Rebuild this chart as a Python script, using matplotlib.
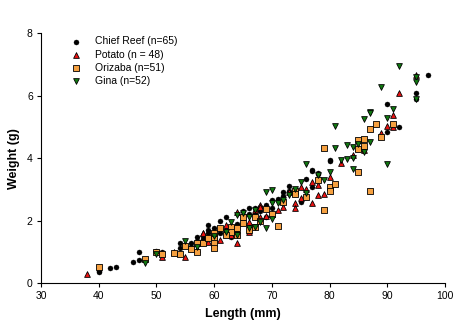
import matplotlib.pyplot as plt

plt.rcParams['font.family'] = ['Liberation Sans', 'DejaVu Sans']

# Chief Reef (black circles)
cr_len = [40, 40, 42, 43, 46, 47, 47, 50, 51, 54, 54, 56, 56, 57, 57, 58, 59, 59, 59,
          60, 61, 61, 62, 62, 62, 63, 63, 64, 65, 65, 65, 66, 66, 67, 67, 68, 68, 69,
          70, 70, 71, 72, 73, 73, 75, 76, 77, 77, 77, 78, 78, 80, 80, 90, 90, 92, 95,
          95, 97, 64, 66, 69, 72, 60, 58]
cr_wt = [0.40, 0.36, 0.47, 0.53, 0.66, 0.73, 0.98, 1.03, 0.98, 1.27, 1.13, 1.27, 1.16,
         1.48, 1.35, 1.40, 1.86, 1.70, 1.60, 1.55, 1.98, 1.60, 2.10, 1.54, 1.70, 1.46,
         1.65, 1.90, 2.30, 2.05, 2.15, 2.39, 2.20, 2.39, 2.20, 2.45, 2.30, 2.50, 2.65,
         2.40, 2.70, 2.80, 3.10, 2.95, 2.60, 3.32, 3.60, 3.06, 3.62, 3.53, 3.50, 3.91,
         3.94, 5.73, 4.83, 5.00, 6.10, 5.90, 6.66, 1.62, 1.80, 2.10, 2.90, 1.75, 1.50]

# Potato (red triangles)
po_len = [38, 51, 53, 55, 58, 58, 61, 62, 64, 64, 66, 67, 68, 68, 68, 74, 74, 75, 75,
          77, 77, 78, 78, 79, 82, 85, 86, 89, 90, 91, 91, 92, 95, 60, 63, 65, 70, 72,
          66, 73, 76, 84, 62, 59, 69, 71, 80, 57]
po_wt = [0.29, 0.82, 1.00, 0.82, 1.59, 1.61, 1.38, 1.70, 1.27, 2.28, 1.64, 2.34, 2.50,
         2.44, 2.10, 2.55, 2.39, 2.71, 3.08, 3.24, 2.55, 3.14, 2.82, 2.85, 3.85, 4.31,
         4.26, 4.79, 5.02, 5.00, 5.38, 6.07, 6.66, 1.50, 1.55, 2.00, 2.20, 2.45, 1.95,
         2.90, 3.00, 4.10, 1.85, 1.30, 2.15, 2.35, 3.40, 1.10]

# Orizaba (orange squares)
or_len = [40, 48, 50, 51, 54, 55, 57, 57, 58, 59, 60, 60, 60, 60, 61, 63, 63, 64, 65,
          65, 67, 67, 69, 71, 74, 74, 78, 79, 79, 80, 80, 81, 85, 85, 85, 86, 86, 87,
          87, 88, 89, 91, 62, 66, 68, 70, 72, 76, 56, 53, 64]
or_wt = [0.50, 0.76, 1.00, 0.93, 0.92, 1.18, 1.00, 1.29, 1.29, 1.43, 1.43, 1.29, 1.11,
         1.59, 1.75, 1.80, 1.64, 1.77, 1.93, 2.10, 2.12, 1.80, 2.36, 1.82, 2.95, 2.85,
         3.30, 4.31, 2.34, 3.06, 2.95, 3.17, 3.54, 4.58, 4.30, 4.62, 4.40, 4.93, 2.94,
         5.09, 4.68, 5.09, 1.55, 1.70, 2.00, 2.20, 2.60, 2.75, 1.10, 0.95, 1.55]

# Gina (green inverted triangles)
gi_len = [48, 50, 55, 57, 64, 64, 65, 66, 66, 67, 67, 68, 69, 69, 70, 70, 70, 71, 73,
          75, 76, 76, 78, 80, 81, 81, 82, 83, 83, 84, 84, 84, 86, 86, 87, 87, 87, 89,
          90, 90, 91, 92, 95, 95, 95, 62, 72, 74, 60, 63, 79, 85]
gi_wt = [0.63, 0.92, 1.35, 1.14, 2.18, 1.54, 2.23, 2.10, 1.75, 2.34, 1.80, 1.96, 1.75,
         2.92, 2.98, 2.55, 2.04, 2.55, 2.82, 3.24, 3.81, 2.89, 3.46, 3.56, 5.02, 4.31,
         3.94, 4.42, 3.96, 4.34, 3.99, 3.64, 5.24, 4.20, 5.48, 5.43, 4.52, 6.28, 5.27,
         3.81, 5.57, 6.95, 6.60, 5.88, 6.45, 1.65, 2.65, 3.00, 1.50, 1.95, 3.30, 4.45]

fig = plt.figure(figsize=(4.62, 3.25), dpi=100)
ax = fig.add_axes([0.089, 0.129, 0.874, 0.769])

ax.scatter(cr_len, cr_wt, s=13, marker='o', color='black', linewidths=0.3,
           edgecolors='black', label='Chief Reef (n=65)', zorder=3)
ax.scatter(po_len, po_wt, s=17, marker='^', color='#ee1111', linewidths=0.6,
           edgecolors='black', label='Potato (n = 48)', zorder=3)
ax.scatter(or_len, or_wt, s=14, marker='s', color='#f5a040', linewidths=0.6,
           edgecolors='black', label='Orizaba (n=51)', zorder=3)
ax.scatter(gi_len, gi_wt, s=17, marker='v', color='#107a10', linewidths=0.6,
           edgecolors='black', label='Gina (n=52)', zorder=3)

ax.set_xlim(30, 100)
ax.set_ylim(0, 8)
ax.set_xticks(range(30, 101, 10))
ax.set_yticks(range(0, 9, 2))
ax.spines['top'].set_visible(False)
ax.spines['right'].set_visible(False)
ax.spines['left'].set_linewidth(0.8)
ax.spines['bottom'].set_linewidth(0.8)
ax.tick_params(direction='out', length=3, width=0.8, labelsize=7.5, pad=3)

ax.set_xlabel('Length (mm)', fontsize=9, fontweight='bold', labelpad=5)
ax.set_ylabel('Weight (g)', fontsize=9, fontweight='bold', labelpad=5)

ax.legend(loc='upper left', bbox_to_anchor=(0.04, 1.02), frameon=False,
          fontsize=7.5, handletextpad=0.8, labelspacing=0.3, borderpad=0.3,
          scatterpoints=1)

fig.savefig('out.png', dpi=100)
